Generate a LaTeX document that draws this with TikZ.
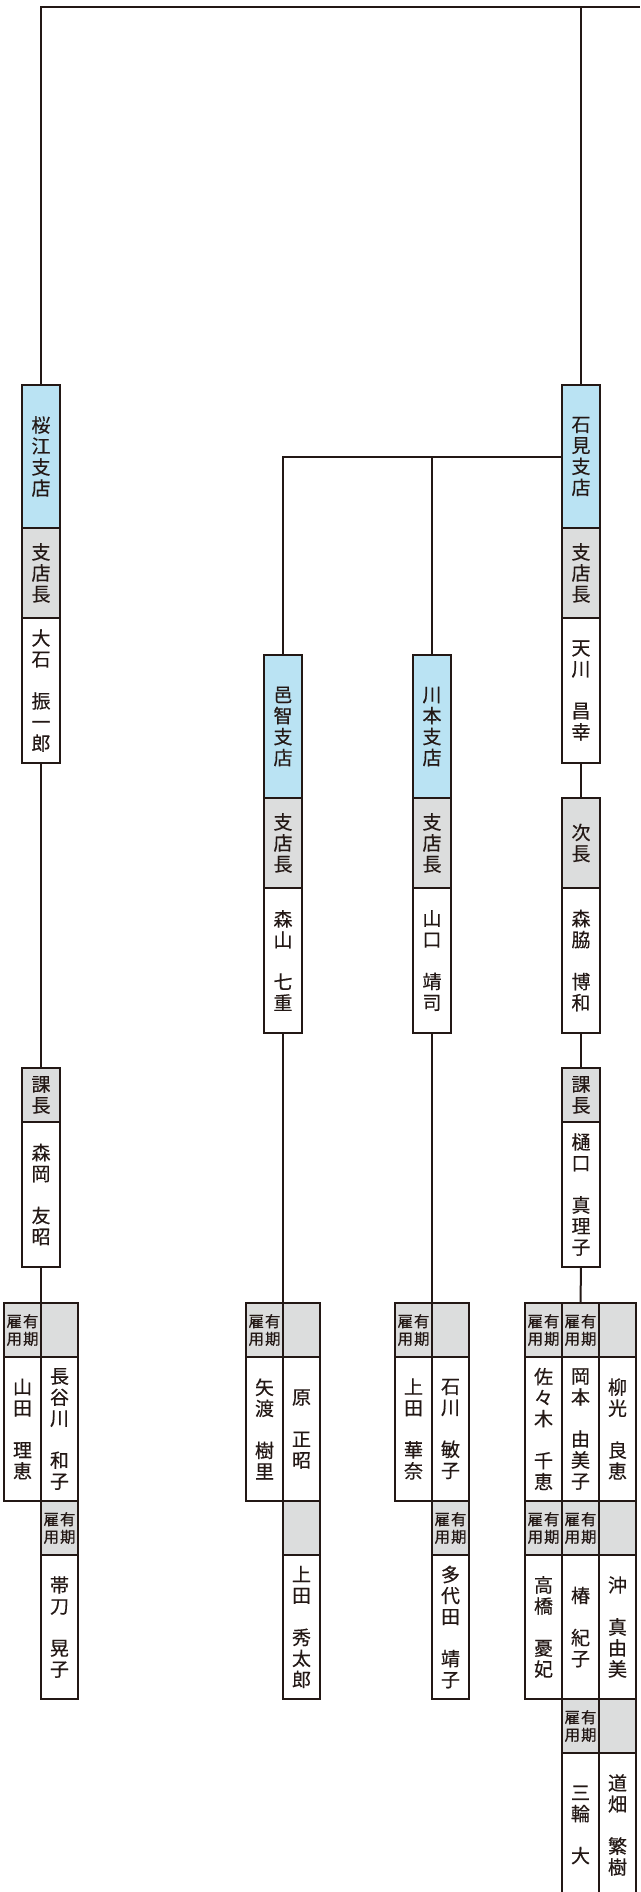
\documentclass[tikz,border=0pt]{standalone}
\usepackage{fontspec}
\setmainfont{Noto Sans CJK JP}[FakeBold=0.35]
\usepackage{tikz}
\usetikzlibrary{positioning}

\definecolor{linecol}{RGB}{35,24,21}
\definecolor{branchblue}{RGB}{186,227,243}
\definecolor{titlegray}{RGB}{220,221,221}

\newcommand{\bigjp}{\fontsize{19pt}{21pt}\selectfont}
\newcommand{\smalljp}{\fontsize{15.5pt}{17.5pt}\selectfont}

\tikzset{
  cell/.style={draw=linecol, line width=2pt, outer sep=0pt, inner sep=0pt, align=center, font=\bigjp, text=linecol},
  branchbox/.style={cell, fill=branchblue, minimum width=38pt, minimum height=143pt, anchor=north},
  postbox/.style={cell, fill=titlegray, minimum width=38pt, minimum height=90pt},
  shortbox/.style={cell, fill=titlegray, minimum width=38pt, minimum height=54pt, anchor=north},
  namebox/.style={cell, fill=white, minimum width=38pt, minimum height=145pt},
  hirebox/.style={cell, fill=titlegray, minimum width=37pt, minimum height=54pt, anchor=north, font=\smalljp},
  staffbox/.style={cell, fill=white, minimum width=37pt, minimum height=144pt},
  link/.style={draw=linecol, line width=2pt}
}

\begin{document}
\begin{tikzpicture}[x=1pt,y=-1pt]
    \useasboundingbox (0,0) rectangle (640,1892);

    % SAKURAE
    \node[branchbox] (sakurae) at (41,385) {桜\\江\\支\\店};
    \node[postbox, below=0pt of sakurae] (sakuraePost) {支\\店\\長};
    \node[namebox, below=0pt of sakuraePost] (oishi) {大\\石\\　\\振\\一\\郎};
    \node[shortbox] (sakuraeKacho) at (41,1068) {課\\長};
    \node[namebox, below=0pt of sakuraeKacho] (morioka) {森\\岡\\　\\友\\昭};

    % Staff
    \node[hirebox] (yamadaHire) at (22.5,1303) {雇\hspace{1pt}有\\用\hspace{1pt}期};
    \node[staffbox, below=0pt of yamadaHire] (yamada) {山\\田\\　\\理\\恵};
    \node[hirebox] (hasegawaHire) at (59.5,1303) {};
    \node[staffbox, below=0pt of hasegawaHire] (hasegawa) {長\\谷\\川\\　\\和\\子};
    \node[hirebox, below=0pt of hasegawa] (tatewakiHire) {雇\hspace{1pt}有\\用\hspace{1pt}期};
    \node[staffbox, below=0pt of tatewakiHire] (tatewaki) {帯\\刀\\　\\晃\\子};

    % OCHI
    \node[branchbox] (ochi) at (283,655) {邑\\智\\支\\店};
    \node[postbox, below=0pt of ochi] (ochiPost) {支\\店\\長};
    \node[namebox, below=0pt of ochiPost] (moriyama) {森\\山\\　\\七\\重};

    % Staff
    \node[hirebox] (yawataHire) at (264.5,1303) {雇\hspace{1pt}有\\用\hspace{1pt}期};
    \node[staffbox, below=0pt of yawataHire] (yawata) {矢\\渡\\　\\樹\\里};
    \node[hirebox] (haraHire) at (301.5,1303) {};
    \node[staffbox, below=0pt of haraHire] (hara) {原\\　\\正\\昭};
    \node[hirebox, below=0pt of hara] (uedaHHire) {};
    \node[staffbox, below=0pt of uedaHHire] (uedaH) {上\\田\\　\\秀\\太\\郎};

    % KAWAMOTO
    \node[branchbox] (kawamoto) at (432,655) {川\\本\\支\\店};
    \node[postbox, below=0pt of kawamoto] (kawamotoPost) {支\\店\\長};
    \node[namebox, below=0pt of kawamotoPost] (yamaguchi) {山\\口\\　\\靖\\司};

    % Staff
    \node[hirebox] (uedaKHire) at (413.5,1303) {雇\hspace{1pt}有\\用\hspace{1pt}期};
    \node[staffbox, below=0pt of uedaKHire] (uedaK) {上\\田\\　\\華\\奈};
    \node[hirebox] (ishikawaHire) at (450.5,1303) {};
    \node[staffbox, below=0pt of ishikawaHire] (ishikawa) {石\\川\\　\\敏\\子};
    \node[hirebox, below=0pt of ishikawa] (tashirodaHire) {雇\hspace{1pt}有\\用\hspace{1pt}期};
    \node[staffbox, below=0pt of tashirodaHire] (tashiroda) {多\\代\\田\\　\\靖\\子};

    % IWAMI
    \node[branchbox] (iwami) at (581,385) {石\\見\\支\\店};
    \node[postbox, below=0pt of iwami] (iwamiPost) {支\\店\\長};
    \node[namebox, below=0pt of iwamiPost] (amakawa) {天\\川\\　\\昌\\幸};
    \node[postbox, anchor=north] (iwamiJicho) at (581,798) {次\\長};
    \node[namebox, below=0pt of iwamiJicho] (moriwaki) {森\\脇\\　\\博\\和};
    \node[shortbox] (iwamiKacho) at (581,1068) {課\\長};
    \node[namebox, below=0pt of iwamiKacho] (higuchi) {樋\\口\\　\\真\\理\\子};

    % Staff
    \node[hirebox] (sasakiHire) at (543.5,1303) {雇\hspace{1pt}有\\用\hspace{1pt}期};
    \node[staffbox, below=0pt of sasakiHire] (sasaki) {佐\\々\\木\\　\\千\\恵};
    \node[hirebox, below=0pt of sasaki] (takahashiHire) {雇\hspace{1pt}有\\用\hspace{1pt}期};
    \node[staffbox, below=0pt of takahashiHire] (takahashi) {高\\橋\\　\\憂\\妃};
    \node[hirebox] (okamotoHire) at (580.5,1303) {雇\hspace{1pt}有\\用\hspace{1pt}期};
    \node[staffbox, below=0pt of okamotoHire] (okamoto) {岡\\本\\　\\由\\美\\子};
    \node[hirebox, below=0pt of okamoto] (tsubakiHire) {雇\hspace{1pt}有\\用\hspace{1pt}期};
    \node[staffbox, below=0pt of tsubakiHire] (tsubaki) {椿\\　\\紀\\子};
    \node[hirebox, below=0pt of tsubaki] (miwaHire) {雇\hspace{1pt}有\\用\hspace{1pt}期};
    \node[staffbox, below=0pt of miwaHire] (miwa) {三\\輪\\　\\大};
    \node[hirebox] (yanagimitsuHire) at (617.5,1303) {};
    \node[staffbox, below=0pt of yanagimitsuHire] (yanagimitsu) {柳\\光\\　\\良\\恵};
    \node[hirebox, below=0pt of yanagimitsu] (okiHire) {};
    \node[staffbox, below=0pt of okiHire] (oki) {沖\\　\\真\\由\\美};
    \node[hirebox, below=0pt of oki] (michihataHire) {};
    \node[staffbox, below=0pt of michihataHire] (michihata) {道\\畑\\　\\繁\\樹};

    % Lines
    \coordinate (topEnd) at (640,7);
    \draw[link] (sakurae.north) |- (topEnd);
    \draw[link] (iwami.north) -- (iwami.north |- topEnd);
    \draw[link] (oishi.south) -- (sakuraeKacho.north);
    \draw[link] (morioka.south) -- (yamadaHire.north east);
    \draw[link] (iwami.west) -| (ochi.north);
    \draw[link] (kawamoto.north) |- (iwami.west);
    \draw[link] (moriyama.south) -- (yawataHire.north east);
    \draw[link] (yamaguchi.south) -- (uedaKHire.north east);
    \draw[link] (amakawa.south) -- (iwamiJicho.north);
    \draw[link] (moriwaki.south) -- (iwamiKacho.north);
    \draw[link] (higuchi.south) -- (okamotoHire.north);
\end{tikzpicture}
\end{document}
